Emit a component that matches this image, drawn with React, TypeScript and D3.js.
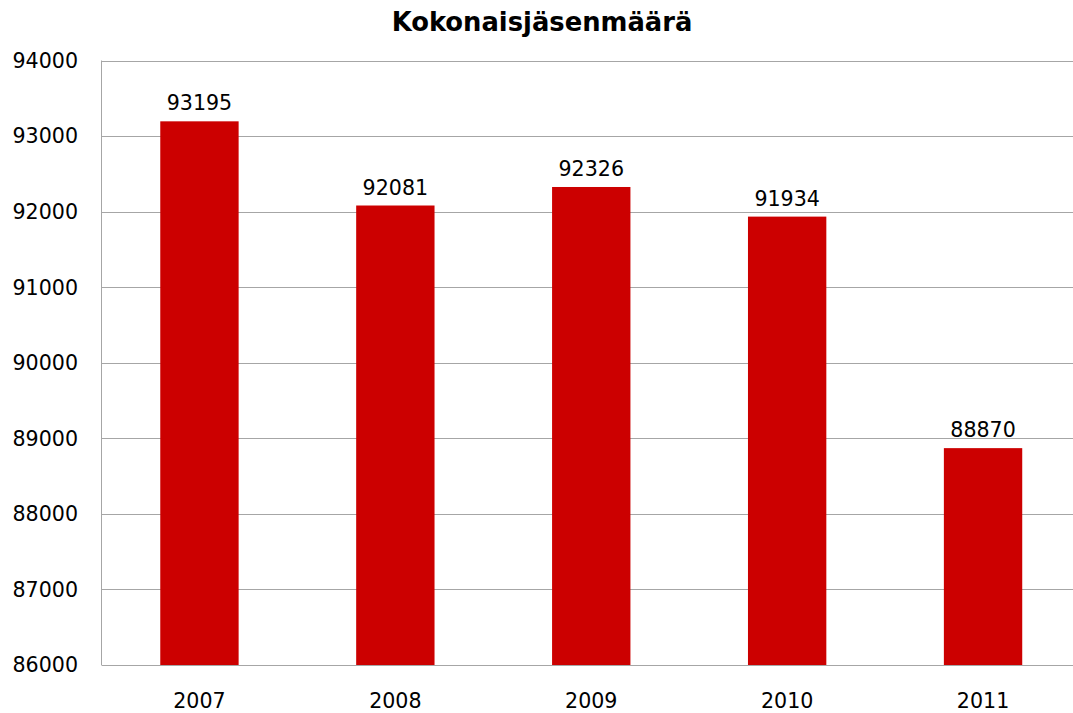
import React from "react";
import { scaleBand, scaleLinear } from "d3";

const years = ["2007", "2008", "2009", "2010", "2011"];
const members = [93195, 92081, 92326, 91934, 88870];
const yTicks = [86000, 87000, 88000, 89000, 90000, 91000, 92000, 93000, 94000];

const W = 1073;
const H = 713;
const FONT = "Verdana, 'DejaVu Sans', sans-serif";

function App() {
  // plot area runs past the right edge, like the original
  const x = scaleBand<string>()
    .domain(years)
    .range([101.5, 1081])
    .paddingInner(0.6)
    .paddingOuter(0.3);

  const y = scaleLinear().domain([86000, 94000]).range([665, 60.5]);

  return (
    <svg
      width={W}
      height={H}
      style={{ position: "absolute", left: 0, top: 0, background: "#fff" }}
      fontFamily={FONT}
    >
      <text x={542} y={30.5} textAnchor="middle" fontSize={25.8} fontWeight="bold">
        Kokonaisjäsenmäärä
      </text>

      {/* gridlines */}
      {yTicks.map((t) => (
        <line
          key={t}
          x1={101.5}
          x2={W}
          y1={Math.round(y(t)) + 0.5}
          y2={Math.round(y(t)) + 0.5}
          stroke="#a6a6a6"
          strokeWidth={1}
        />
      ))}
      <line x1={101.5} x2={101.5} y1={y(94000)} y2={y(86000)} stroke="#a6a6a6" />

      {/* y tick labels */}
      {yTicks.map((t) => (
        <text
          key={t}
          x={78}
          y={y(t)}
          dy="0.36em"
          textAnchor="end"
          fontSize={20.6}
        >
          {t}
        </text>
      ))}

      {/* bars */}
      {years.map((yr, i) => (
        <g key={yr}>
          <rect
            x={x(yr)}
            y={y(members[i])}
            width={x.bandwidth()}
            height={y(86000) - y(members[i])}
            fill="#cc0000"
          />
          <text
            x={(x(yr) ?? 0) + x.bandwidth() / 2}
            y={y(members[i]) - 11}
            textAnchor="middle"
            fontSize={20.6}
          >
            {members[i]}
          </text>
          <text
            x={(x(yr) ?? 0) + x.bandwidth() / 2}
            y={708}
            textAnchor="middle"
            fontSize={20.6}
          >
            {yr}
          </text>
        </g>
      ))}
    </svg>
  );
}

export default App;
